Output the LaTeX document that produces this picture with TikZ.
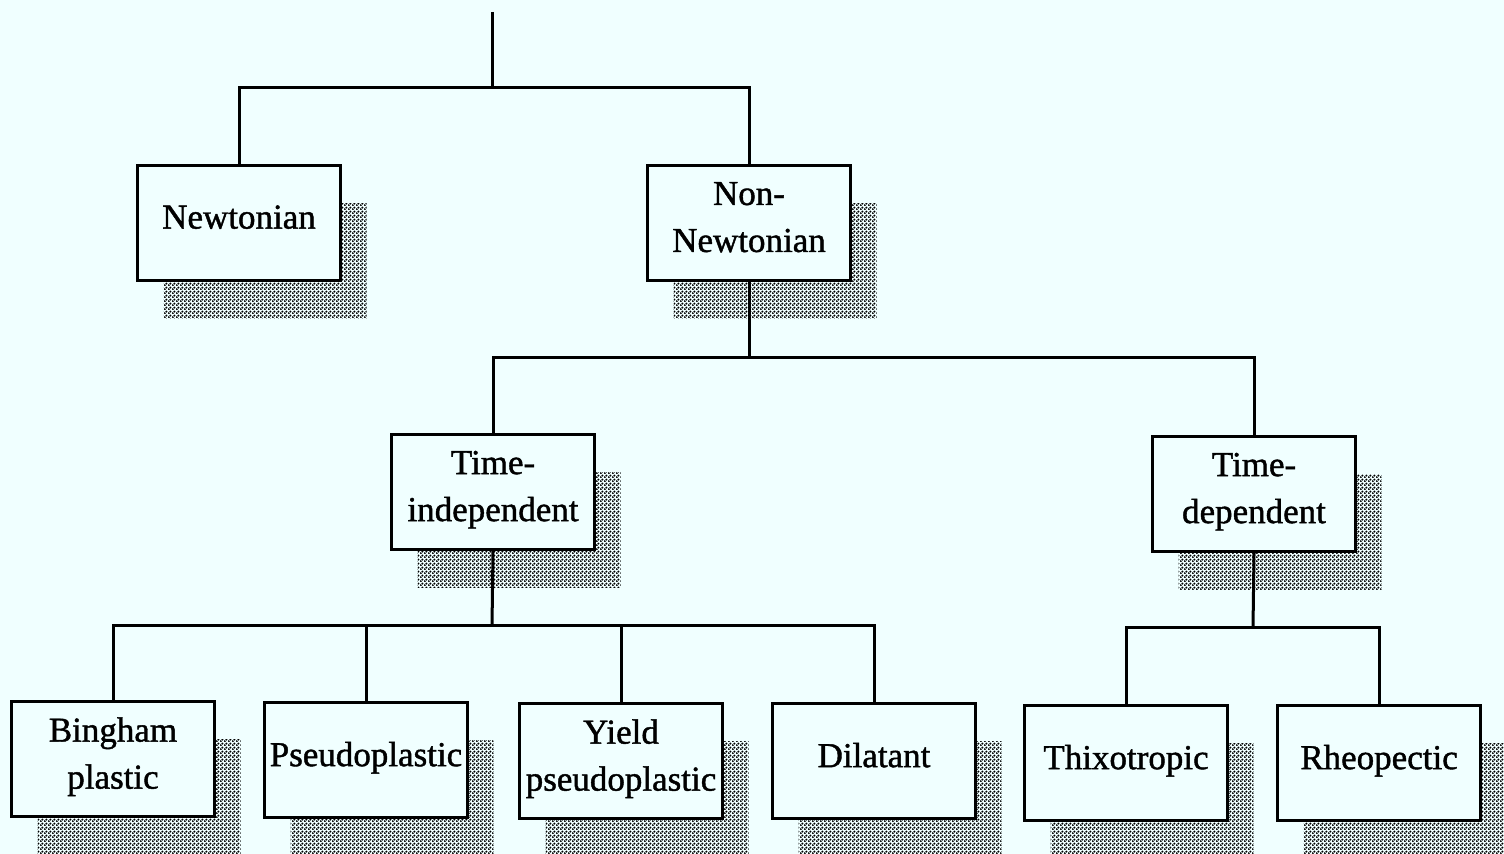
\documentclass[tikz,border=0pt]{standalone}
\usepackage{fontspec}
\setmainfont{Liberation Serif}[FakeBold=1.2]
\usetikzlibrary{patterns.meta,shadows}
\definecolor{sfondo}{HTML}{F0FFFF}

\tikzdeclarepattern{
	name=puntini,
	bottom left={(0pt,0pt)},
	top right={(2pt,2pt)},
	tile size={(2pt,2pt)},
	code={
		\fill (0.5pt,0.5pt) circle (0.68pt);
		\fill (1.5pt,1.5pt) circle (0.68pt);
	}
}

\begin{document}
\begin{tikzpicture}[x=0.5pt, y=-0.5pt, line width=1.5pt,
		scatola/.style={draw, fill=sfondo, minimum width=101.5pt, minimum height=57.5pt,
			inner sep=0pt, align=center, text depth=6pt, font=\fontsize{17.5}{23.5}\selectfont,
			drop shadow={shadow xshift=13pt, shadow yshift=-19pt, pattern=puntini, opacity=1}}]
		\fill[sfondo] (0, 0) rectangle (1504, 854);
		\useasboundingbox (0, 0) rectangle (1504, 854);

		% scatole
		\node[scatola] (newt) at (239, 223) {Newtonian};
		\node[scatola] (nonnewt) at (749, 223) {Non-\\Newtonian};
		\node[scatola] (tind) at (493, 492) {Time-\\independent};
		\node[scatola] (tdep) at (1254, 494) {Time-\\dependent};
		\node[scatola] (bing) at (113, 759) {Bingham\\plastic};
		\node[scatola] (pseudo) at (366, 760) {Pseudoplastic};
		\node[scatola] (yield) at (621, 761) {Yield\\pseudoplastic};
		\node[scatola] (dil) at (874, 761) {Dilatant};
		\node[scatola] (thixo) at (1126, 763) {Thixotropic};
		\node[scatola] (rheo) at (1379, 763) {Rheopectic};

		\coordinate (top) at (492, 12);
		\coordinate (j1) at (492, 88);
		\coordinate (j2) at (749, 358);
		\coordinate (j3) at (492, 626);
		\coordinate (j4) at (1253, 628);

		% collegamenti
		\draw (top) -- (j1);
		\draw (newt.north) |- (j1) -| (nonnewt.north);
		\draw (nonnewt.south) -- (j2);
		\draw (tind.north) |- (j2) -| (tdep.north);
		\draw (tind.south) -- (j3);
		\draw (bing.north) |- (j3) -| (dil.north);
		\draw (pseudo.north) -- (pseudo.north |- j3);
		\draw (yield.north) -- (yield.north |- j3);
		\draw (tdep.south) -- (j4);
		\draw (thixo.north) |- (j4) -| (rheo.north);
	\end{tikzpicture}
\end{document}
